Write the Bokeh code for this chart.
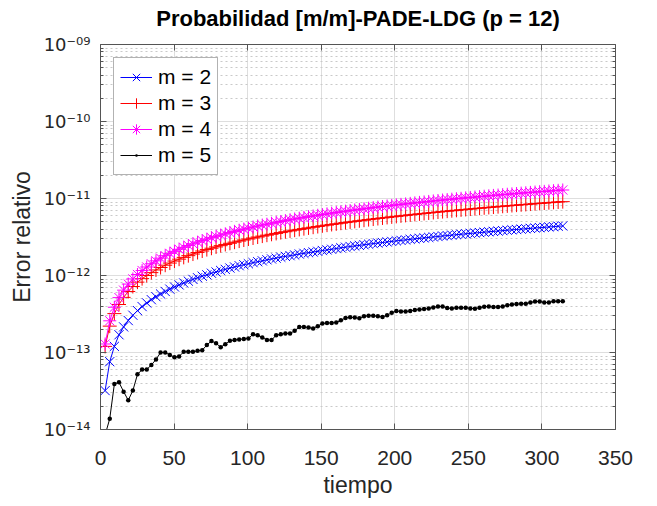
from bokeh.plotting import figure
from bokeh.models import (LogAxis, LinearAxis, FixedTicker,
                          CustomJSTickFormatter, Legend, LegendItem)
from bokeh.embed import file_html
from bokeh.resources import INLINE

# ---- data (values in units of 1e-12) ----
tiempo = [3.14, 6.28, 9.42, 12.57, 15.71, 18.85, 21.99, 25.13, 28.27, 31.42,
          34.56, 37.70, 40.84, 43.98, 47.12, 50.27, 53.41, 56.55, 59.69, 62.83,
          65.97, 69.12, 72.26, 75.40, 78.54, 81.68, 84.82, 87.96, 91.11, 94.25,
          97.39, 100.53, 103.67, 106.81, 109.96, 113.10, 116.24, 119.38, 122.52, 125.66,
          128.81, 131.95, 135.09, 138.23, 141.37, 144.51, 147.65, 150.80, 153.94, 157.08,
          160.22, 163.36, 166.50, 169.65, 172.79, 175.93, 179.07, 182.21, 185.35, 188.50,
          191.64, 194.78, 197.92, 201.06, 204.20, 207.35, 210.49, 213.63, 216.77, 219.91,
          223.05, 226.19, 229.34, 232.48, 235.62, 238.76, 241.90, 245.04, 248.19, 251.33,
          254.47, 257.61, 260.75, 263.89, 267.04, 270.18, 273.32, 276.46, 279.60, 282.74,
          285.88, 289.03, 292.17, 295.31, 298.45, 301.59, 304.73, 307.88, 311.02, 314.16]

err_m2 = [0.032, 0.076, 0.12, 0.17, 0.215, 0.26, 0.305, 0.35, 0.395, 0.44,
          0.485, 0.53, 0.575, 0.62, 0.665, 0.71, 0.755, 0.80, 0.845, 0.89,
          0.935, 0.98, 1.02, 1.07, 1.11, 1.16, 1.20, 1.25, 1.29, 1.34,
          1.38, 1.42, 1.47, 1.51, 1.55, 1.60, 1.64, 1.68, 1.73, 1.77,
          1.81, 1.85, 1.90, 1.94, 1.98, 2.02, 2.06, 2.11, 2.15, 2.19,
          2.24, 2.29, 2.33, 2.38, 2.42, 2.46, 2.51, 2.55, 2.60, 2.64,
          2.68, 2.73, 2.77, 2.82, 2.86, 2.90, 2.95, 2.99, 3.04, 3.08,
          3.12, 3.17, 3.21, 3.26, 3.30, 3.34, 3.39, 3.43, 3.48, 3.52,
          3.56, 3.61, 3.65, 3.70, 3.74, 3.78, 3.83, 3.87, 3.92, 3.96,
          4.00, 4.05, 4.09, 4.14, 4.18, 4.22, 4.27, 4.31, 4.36, 4.40]

err_m3 = [0.12, 0.22, 0.32, 0.42, 0.52, 0.62, 0.72, 0.82, 0.91, 1.00,
          1.09, 1.18, 1.27, 1.36, 1.45, 1.54, 1.63, 1.72, 1.81, 1.90,
          1.99, 2.08, 2.17, 2.26, 2.35, 2.44, 2.53, 2.62, 2.71, 2.80,
          2.89, 2.98, 3.07, 3.16, 3.25, 3.34, 3.43, 3.52, 3.61, 3.70,
          3.79, 3.88, 3.97, 4.06, 4.15, 4.24, 4.33, 4.42, 4.51, 4.60,
          4.69, 4.78, 4.87, 4.96, 5.05, 5.14, 5.23, 5.32, 5.41, 5.50,
          5.59, 5.68, 5.77, 5.86, 5.95, 6.04, 6.13, 6.22, 6.31, 6.40,
          6.49, 6.58, 6.67, 6.76, 6.85, 6.94, 7.03, 7.12, 7.21, 7.30,
          7.39, 7.48, 7.57, 7.66, 7.75, 7.84, 7.93, 8.02, 8.11, 8.20,
          8.29, 8.38, 8.47, 8.56, 8.65, 8.74, 8.83, 8.92, 9.01, 9.10]

err_m4 = [0.129, 0.258, 0.387, 0.516, 0.645, 0.774, 0.903, 1.03, 1.16, 1.29,
          1.42, 1.55, 1.68, 1.81, 1.94, 2.06, 2.19, 2.32, 2.45, 2.58,
          2.71, 2.84, 2.97, 3.10, 3.23, 3.35, 3.48, 3.61, 3.74, 3.87,
          4.00, 4.13, 4.26, 4.39, 4.52, 4.64, 4.77, 4.90, 5.03, 5.16,
          5.29, 5.42, 5.55, 5.68, 5.81, 5.93, 6.06, 6.19, 6.32, 6.45,
          6.58, 6.71, 6.84, 6.97, 7.10, 7.22, 7.35, 7.48, 7.61, 7.74,
          7.87, 8.00, 8.13, 8.26, 8.39, 8.51, 8.64, 8.77, 8.90, 9.03,
          9.16, 9.29, 9.42, 9.55, 9.68, 9.80, 9.93, 10.06, 10.19, 10.32,
          10.45, 10.58, 10.71, 10.84, 10.97, 11.09, 11.22, 11.35, 11.48, 11.61,
          11.74, 11.87, 12.00, 12.13, 12.26, 12.38, 12.51, 12.64, 12.77, 12.90]

err_m5 = [0.0085, 0.0138, 0.039, 0.041, 0.031, 0.024, 0.032, 0.052, 0.060, 0.060,
          0.069, 0.081, 0.100, 0.100, 0.093, 0.087, 0.089, 0.102, 0.102, 0.102,
          0.105, 0.107, 0.125, 0.141, 0.132, 0.117, 0.128, 0.142, 0.145, 0.148,
          0.150, 0.152, 0.173, 0.167, 0.157, 0.145, 0.145, 0.168, 0.173, 0.177,
          0.177, 0.191, 0.215, 0.215, 0.211, 0.205, 0.220, 0.238, 0.242, 0.242,
          0.245, 0.262, 0.281, 0.287, 0.284, 0.278, 0.295, 0.301, 0.301, 0.295,
          0.289, 0.304, 0.329, 0.345, 0.342, 0.342, 0.345, 0.356, 0.363, 0.366,
          0.374, 0.385, 0.396, 0.396, 0.378, 0.374, 0.381, 0.381, 0.381, 0.374,
          0.370, 0.381, 0.393, 0.396, 0.389, 0.389, 0.396, 0.412, 0.421, 0.425,
          0.429, 0.429, 0.446, 0.460, 0.460, 0.446, 0.446, 0.464, 0.464, 0.464]

series_labels = ["m = 2", "m = 3", "m = 4", "m = 5"]
x_ticks = [0, 50, 100, 150, 200, 250, 300, 350]
y_ticks = [1e-14, 1e-13, 1e-12, 1e-11, 1e-10, 1e-9]
title_text = "Probabilidad [m/m]-PADE-LDG (p = 12)"

UNIT = 1e-12
FONT = "Liberation Sans"
TXT = "#262626"
AX = "#555555"

p = figure(width=650, height=500, y_axis_type="log",
           x_range=(0, 350), y_range=(1e-14, 1e-9),
           output_backend="svg", toolbar_location=None,
           min_border_left=100, min_border_right=35,
           min_border_top=44, min_border_bottom=66)
p.title.text = ""
p.title.standoff = 0

minor = [m * 10.0 ** e for e in range(-14, -9) for m in range(2, 10)]
yticker = FixedTicker(ticks=y_ticks, minor_ticks=minor)
xticker = FixedTicker(ticks=x_ticks, minor_ticks=[])
empty = CustomJSTickFormatter(code="return '';")

sup_code = """
const sup = {'0':'\u2070','1':'\u00b9','2':'\u00b2','3':'\u00b3','4':'\u2074','5':'\u2075',
             '6':'\u2076','7':'\u2077','8':'\u2078','9':'\u2079','-':'\u207b'};
const e = Math.round(Math.log10(tick));
const s = (e < 0 ? '-' : '') + String(Math.abs(e)).padStart(2, '0');
return '10' + s.split('').map(c => sup[c]).join('');
"""

p.yaxis.ticker = yticker
p.yaxis.formatter = CustomJSTickFormatter(code=sup_code)
p.xaxis.ticker = xticker
p.xaxis.axis_label = "tiempo"
p.yaxis.axis_label = "Error relativo"

for ax in [p.xaxis[0], p.yaxis[0]]:
    ax.axis_line_color = AX
    ax.major_tick_line_color = AX
    ax.minor_tick_line_color = AX
    ax.major_tick_in = 6
    ax.major_tick_out = 0
    ax.minor_tick_in = 3
    ax.minor_tick_out = 0
    ax.major_label_text_color = TXT
    ax.axis_label_text_font = FONT
    ax.axis_label_text_font_size = "23px"
    ax.axis_label_text_font_style = "normal"
    ax.axis_label_text_color = TXT

p.xaxis.major_label_text_font = FONT
p.xaxis.major_label_text_font_size = "21px"
p.xaxis.major_label_standoff = 21
p.xaxis.axis_label_standoff = 4
p.yaxis.major_label_text_font = "DejaVu Sans"
p.yaxis.major_label_text_font_size = "18px"
p.yaxis.major_label_standoff = 10
p.yaxis.axis_label_standoff = 6

ax_r = LogAxis(ticker=yticker, formatter=empty, axis_line_color=AX,
               major_tick_line_color=AX, minor_tick_line_color=AX,
               major_tick_in=6, major_tick_out=0, minor_tick_in=3, minor_tick_out=0,
               major_label_text_font_size="0px", major_label_standoff=0)
# top box edge; its axis label carries the chart title
ax_t = LinearAxis(ticker=xticker, formatter=empty, axis_line_color=AX,
                  major_tick_line_color=AX, minor_tick_line_color=AX,
                  major_tick_in=6, major_tick_out=0, minor_tick_in=0, minor_tick_out=0,
                  major_label_text_font_size="0px", major_label_standoff=0,
                  axis_label=title_text, axis_label_standoff=14,
                  axis_label_text_font=FONT, axis_label_text_font_size="22px",
                  axis_label_text_font_style="bold", axis_label_text_color="#000000")
p.add_layout(ax_r, "right")
p.add_layout(ax_t, "above")

p.xgrid.grid_line_color = "#dedede"
p.ygrid.grid_line_color = "#dedede"
p.ygrid.minor_grid_line_color = "#c9c9c9"
p.ygrid.minor_grid_line_dash = "2 3"
p.outline_line_color = None

def scaled(vals):
    return [v * UNIT for v in vals]

items = []
specs = [(err_m2, "#0000ff", "x", 13), (err_m3, "#ff0000", "cross", 14),
         (err_m4, "#ff00ff", "asterisk", 13), (err_m5, "#000000", "dot", 18)]
for (vals, col, mk, sz), lab in zip(specs, series_labels):
    yv = scaled(vals)
    r1 = p.line(tiempo, yv, line_color=col, line_width=1)
    r2 = p.scatter(tiempo, yv, marker=mk, size=sz, line_color=col,
                   fill_color=col, line_width=1)
    items.append(LegendItem(label=lab, renderers=[r2, r1]))

legend = Legend(items=items, location="top_left", margin=13, padding=6,
                spacing=0, glyph_width=32, glyph_height=26, label_height=20,
                label_standoff=6, label_text_font=FONT, label_text_font_size="21px",
                label_text_color="#000000", border_line_color="#666666",
                border_line_width=1, background_fill_color="white",
                background_fill_alpha=1.0)
p.add_layout(legend)

open("out.html", "w").write(file_html(p, INLINE))
